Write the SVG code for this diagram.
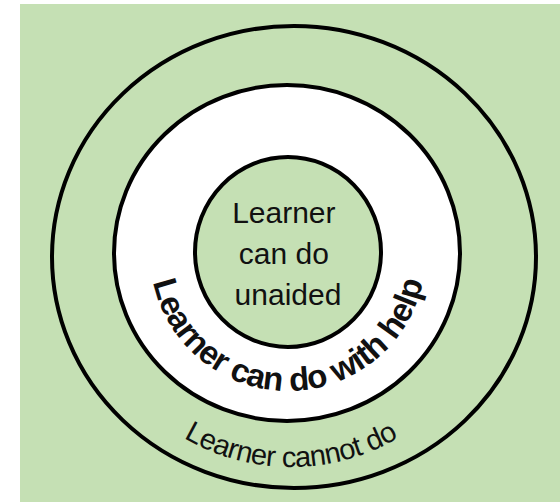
<svg xmlns="http://www.w3.org/2000/svg" xmlns:xlink="http://www.w3.org/1999/xlink" width="560" height="502" viewBox="0 0 560 502">
  <style>
    .ring { stroke: #000; stroke-width: 4; }
    .txt { font-family: "Liberation Sans", Arial, sans-serif; fill: #111; }
  </style>
  <defs>
    <path id="midArc" d="M 150,253 A 138 138 0 0 0 426,253"/>
    <path id="outArc" d="M 79,255 A 212 212 0 0 0 503,255"/>
  </defs>
  <rect x="20" y="4" width="540" height="498" fill="#c5e0b4"/>
  <g id="outer">
    <ellipse class="ring" cx="294" cy="257" rx="242" ry="231" fill="#c5e0b4"/>
    <text class="txt" font-size="29" letter-spacing="-0.6"><textPath xlink:href="#outArc" startOffset="50%" text-anchor="middle">Learner cannot do</textPath></text>
  </g>
  <g id="middle">
    <ellipse class="ring" cx="287" cy="253" rx="173" ry="168" fill="#fff"/>
    <text class="txt" font-size="33" font-weight="bold" letter-spacing="-0.6"><textPath xlink:href="#midArc" startOffset="50%" text-anchor="middle">Learner can do with help</textPath></text>
  </g>
  <g id="inner">
    <ellipse class="ring" cx="288" cy="252" rx="93" ry="95" fill="#c5e0b4" stroke-width="3.5"/>
    <text class="txt" font-size="30" text-anchor="middle">
      <tspan x="288" y="223">Learner</tspan>
      <tspan x="288" y="264">can do</tspan>
      <tspan x="288" y="305">unaided</tspan>
    </text>
  </g>
  <g id="connectors"/>
</svg>
